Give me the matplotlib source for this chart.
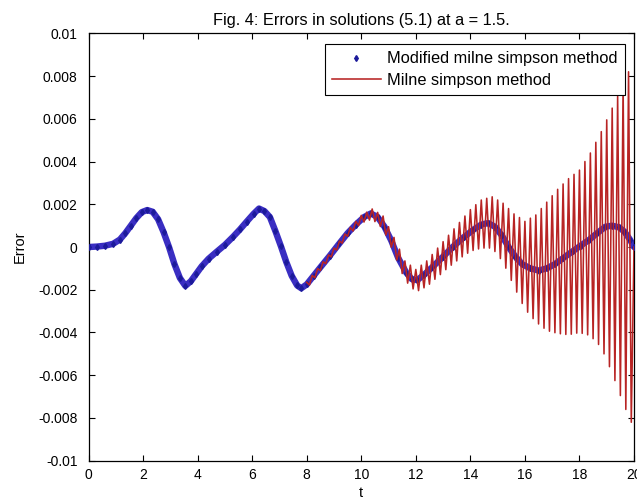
import matplotlib
matplotlib.use('Agg')
import matplotlib.pyplot as plt
import numpy as np

plt.rcParams['font.family'] = ['Liberation Sans', 'DejaVu Sans']

# ── Data (values in units of 1e-3) ───────────────────────────────────────────

TITLE = 'Fig. 4: Errors in solutions (5.1) at a = 1.5.'
X_LABEL = 't'
Y_LABEL = 'Error'
LEGEND_LABELS = ['Modified milne simpson method', 'Milne simpson method']

X_TICKS = [0, 2, 4, 6, 8, 10, 12, 14, 16, 18, 20]
Y_TICKS = [0.01, 0.008, 0.006, 0.004, 0.002, 0, -0.002, -0.004, -0.006, -0.008, -0.01]
Y_TICK_LABELS = ['0.01', '0.008', '0.006', '0.004', '0.002', '0',
                 '-0.002', '-0.004', '-0.006', '-0.008', '-0.01']

# modified Milne-Simpson (smooth curve)
t_mod = [0.0, 0.3, 0.6, 0.9, 1.15, 1.35, 1.55, 1.75, 1.95, 2.15,
         2.35, 2.55, 2.75, 2.95, 3.15, 3.35, 3.55, 3.75, 3.95, 4.15,
         4.4, 4.7, 5.0, 5.3, 5.55, 5.8, 6.05, 6.25, 6.45, 6.65,
         6.85, 7.05, 7.25, 7.45, 7.65, 7.8, 8.0, 8.25, 8.5, 8.85,
         9.2, 9.5, 9.8, 10.1, 10.35, 10.6, 10.85, 11.1, 11.35, 11.65,
         11.85, 12.05, 12.3, 12.6, 13.0, 13.35, 13.75, 14.1, 14.4, 14.65,
         14.9, 15.15, 15.4, 15.65, 15.9, 16.2, 16.5, 16.8, 17.1, 17.4,
         17.75, 18.05, 18.35, 18.65, 18.95, 19.2, 19.45, 19.65, 19.85, 20.0]
err_mod = [0.00, 0.02, 0.06, 0.15, 0.35, 0.65, 1.00, 1.35, 1.63, 1.73,
           1.65, 1.30, 0.70, 0.00, -0.80, -1.45, -1.82, -1.60, -1.25, -0.90,
           -0.55, -0.22, 0.10, 0.48, 0.82, 1.19, 1.55, 1.80, 1.68, 1.40,
           0.75, 0.05, -0.70, -1.35, -1.80, -1.93, -1.75, -1.35, -0.95, -0.40,
           0.17, 0.65, 1.05, 1.40, 1.57, 1.40, 0.95, 0.30, -0.50, -1.20,
           -1.50, -1.55, -1.30, -0.95, -0.45, 0.00, 0.45, 0.80, 1.05, 1.12,
           0.95, 0.55, 0.00, -0.45, -0.80, -1.00, -1.10, -1.00, -0.80, -0.52,
           -0.20, 0.07, 0.33, 0.65, 0.95, 1.00, 0.92, 0.72, 0.35, 0.00]

# Milne-Simpson (oscillating): crest values at t = 8.0, 8.2, ... 19.8
t_hi = np.arange(8.0, 19.81, 0.2)
err_hi = [-1.65, -1.33, -1.01, -0.69, -0.37, -0.05, 0.28, 0.61, 0.92, 1.20,
          1.48, 1.63, 1.78, 1.62, 1.45, 0.95, 0.45, -0.10, -0.65, -0.85,
          -1.05, -0.85, -0.65, -0.35, -0.05, 0.25, 0.55, 0.85, 1.15, 1.45,
          1.75, 1.98, 2.20, 2.28, 2.35, 2.20, 2.05, 1.80, 1.55, 1.38,
          1.20, 1.35, 1.50, 1.80, 2.10, 2.40, 2.70, 2.95, 3.20, 3.40,
          3.60, 4.00, 4.40, 4.90, 5.40, 5.95, 6.50, 7.05, 7.60, 8.20]
# trough values at t = 8.1, 8.3, ... 19.9
t_lo = np.arange(8.1, 19.91, 0.2)
err_lo = [-1.78, -1.44, -1.10, -0.78, -0.46, -0.14, 0.18, 0.50, 0.75, 1.00,
          1.17, 1.26, 1.19, 0.96, 0.56, -0.01, -0.61, -1.24, -1.69, -1.96,
          -2.04, -1.91, -1.74, -1.51, -1.29, -1.06, -0.85, -0.65, -0.46, -0.29,
          -0.16, -0.09, -0.05, -0.05, -0.21, -0.54, -0.99, -1.56, -2.11, -2.64,
          -3.05, -3.35, -3.60, -3.80, -3.94, -4.01, -4.06, -4.09, -4.08, -4.03,
          -4.04, -4.11, -4.29, -4.56, -5.00, -5.60, -6.25, -6.95, -7.60, -8.20]
t_end, err_end = 20.0, 0.0


# ── Plot ─────────────────────────────────────────────────────────────────────

def main():
    scale = 1e-3
    t_red = np.empty(len(t_hi) * 2 + 1)
    e_red = np.empty(len(t_hi) * 2 + 1)
    t_red[0:-1:2], t_red[1:-1:2], t_red[-1] = t_hi, t_lo, t_end
    e_red[0:-1:2] = np.array(err_hi) * scale
    e_red[1:-1:2] = np.array(err_lo) * scale
    e_red[-1] = err_end
    e_mod = np.array(err_mod) * scale

    fig = plt.figure(figsize=(6.37, 5.01), dpi=100)
    ax = fig.add_axes([0.139, 0.0804, 0.8563, 0.8531])

    ax.plot(t_mod, e_mod, color='#3a2ec2', linewidth=4.6,
            solid_capstyle='round', zorder=2)
    ax.plot(t_mod, e_mod, linestyle='none', marker='d', markersize=3,
            color='#1c1a9a', label=LEGEND_LABELS[0], zorder=3)
    ax.plot(t_red, e_red, color='#b82424', linewidth=1.15,
            label=LEGEND_LABELS[1], zorder=4)

    ax.set_xlim(0, 20)
    ax.set_ylim(-0.01, 0.01)
    ax.set_xticks(X_TICKS)
    ax.set_xticklabels([str(x) for x in X_TICKS])
    ax.set_yticks(Y_TICKS)
    ax.set_yticklabels(Y_TICK_LABELS)
    ax.tick_params(direction='in', length=4, width=0.8, top=True, right=True,
                   labelsize=10, colors='black')
    ax.tick_params(axis='x', pad=5)
    ax.tick_params(axis='y', pad=8)
    for s in ax.spines.values():
        s.set_linewidth(0.9)

    ax.set_title(TITLE, fontsize=11.8, pad=6)
    ax.set_xlabel(X_LABEL, fontsize=10.5, labelpad=3)
    ax.set_ylabel(Y_LABEL, fontsize=10.5, labelpad=8)

    leg = ax.legend(loc='upper right', bbox_to_anchor=(0.9835, 0.975),
                    borderaxespad=0, fontsize=11.8, numpoints=1,
                    handlelength=3.0, handletextpad=0.37, labelspacing=0.38,
                    borderpad=0.45, fancybox=False, framealpha=1)
    leg.get_frame().set_edgecolor('black')
    leg.get_frame().set_linewidth(0.8)

    fig.savefig('out.png', dpi=100)


if __name__ == '__main__':
    main()
